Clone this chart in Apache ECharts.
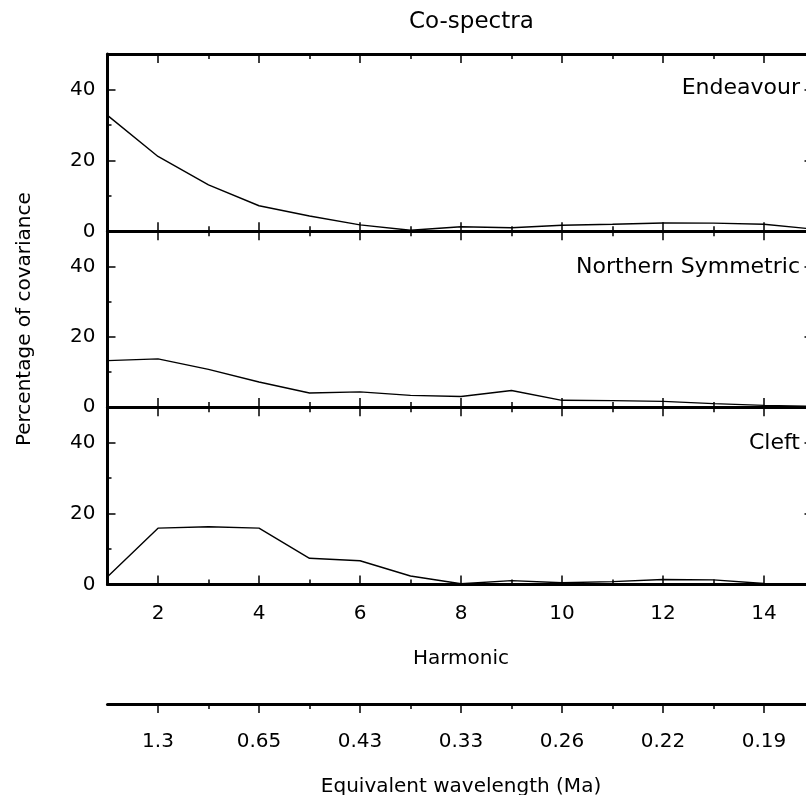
<!DOCTYPE html>
<html>
<head>
<meta charset="utf-8">
<script src="https://cdn.jsdelivr.net/npm/echarts@6/dist/echarts.min.js"></script>
<style>
html,body{margin:0;padding:0;background:#fff;}
#chart{width:806px;height:795px;}
</style>
</head>
<body>
<div id="chart"></div>
<script>
// ---- data ----
const harmonics = [1,2,3,4,5,6,7,8,9,10,11,12,13,14,15];
const endeavour = [32.7,21.1,13.1,7.2,4.3,1.8,0.3,1.3,1.0,1.7,2.0,2.35,2.3,2.0,0.6];
const northernSymmetric = [13.2,13.7,10.7,7.1,4.0,4.3,3.3,3.0,4.7,1.9,1.8,1.6,0.95,0.45,0.2];
const cleft = [2.2,15.9,16.3,15.9,7.4,6.7,2.4,0.2,1.1,0.5,0.8,1.4,1.3,0.3,0.2];
const panelNames = ['Endeavour','Northern Symmetric','Cleft'];
const majorHarmonics = [2,4,6,8,10,12,14];
const minorHarmonics = [3,5,7,9,11,13];
const yMajorTicks = [0,20,40];
const yMinorTicks = [10,30];
const wavelengthLabels = ['1.3','0.65','0.43','0.33','0.26','0.22','0.19'];

const FONT = 'DejaVu Sans';
const panelSeries = [endeavour, northernSymmetric, cleft];

const panelLayout = [
  {top: 54, height: 177.3},
  {top: 231.3, height: 175.7},
  {top: 407.3, height: 177.2}
];
const gridLeft = 107.5;
const gridWidth = 14 * 50.5;

const grids = panelLayout.map(p => ({left: gridLeft, top: p.top, width: gridWidth, height: p.height,
  containLabel: false, outerBoundsMode: 'none'}));
grids.push({left: gridLeft, top: 703, width: gridWidth, height: 1, containLabel: false, outerBoundsMode: 'none'});

const xAxes = [];
const yAxes = [];
const series = [];
const black = '#000';

function xAxis(gridIndex, position, major, opts) {
  return Object.assign({
    type: 'value', gridIndex, position, min: 1, max: 15,
    splitLine: {show: false},
    axisLine: {show: major, onZero: false, lineStyle: {color: black, width: 3}},
    axisTick: {show: true, inside: true, length: major ? 9 : 5,
      customValues: major ? majorHarmonics : minorHarmonics,
      lineStyle: {color: black, width: 1.5}},
    axisLabel: {show: false}
  }, opts || {});
}
function yAxis(gridIndex, position, major, opts) {
  return Object.assign({
    type: 'value', gridIndex, position, min: 0, max: 50,
    splitLine: {show: false},
    axisLine: {show: major, onZero: false, lineStyle: {color: black, width: 3}},
    axisTick: {show: true, inside: true, length: major ? 8 : 4,
      customValues: major ? yMajorTicks : yMinorTicks,
      lineStyle: {color: black, width: 1.5}},
    axisLabel: {show: false}
  }, opts || {});
}

panelLayout.forEach((p, g) => {
  const isLast = g === panelLayout.length - 1;
  const bottomMajorIdx = xAxes.length;
  xAxes.push(xAxis(g, 'bottom', true, isLast ? {
    axisLabel: {show: true, customValues: majorHarmonics, margin: 19,
      color: black, fontSize: 20, fontFamily: FONT},
    name: 'Harmonic', nameLocation: 'middle', nameGap: 64,
    nameTextStyle: {color: black, fontSize: 20, fontFamily: FONT}
  } : {}));
  xAxes.push(xAxis(g, 'bottom', false));
  xAxes.push(xAxis(g, 'top', true));
  xAxes.push(xAxis(g, 'top', false));

  const leftMajorIdx = yAxes.length;
  yAxes.push(yAxis(g, 'left', true, Object.assign({
    axisLabel: {show: true, customValues: yMajorTicks, margin: 12,
      color: black, fontSize: 20, fontFamily: FONT}
  }, g === 1 ? {
    name: 'Percentage of covariance', nameLocation: 'middle', nameGap: 73, nameRotate: 90,
    nameTextStyle: {color: black, fontSize: 20, fontFamily: FONT}
  } : {})));
  yAxes.push(yAxis(g, 'left', false));
  yAxes.push(Object.assign(yAxis(g, 'right', true), {
    axisTick: {show: true, inside: true, length: 10, customValues: [20, 40],
      lineStyle: {color: black, width: 1.5}}
  }));

  series.push({
    type: 'line', name: panelNames[g],
    xAxisIndex: bottomMajorIdx, yAxisIndex: leftMajorIdx,
    data: harmonics.map((h, i) => [h, panelSeries[g][i]]),
    showSymbol: false, symbol: 'none',
    lineStyle: {color: black, width: 1.4},
    clip: false, silent: true
  });
});

// wavelength axis (grid 3)
const wlMajorIdx = xAxes.length;
xAxes.push({
  type: 'value', gridIndex: 3, position: 'bottom', min: 1, max: 15,
  splitLine: {show: false},
  axisLine: {show: true, onZero: false, lineStyle: {color: black, width: 3}},
  axisTick: {show: true, inside: false, length: 9, customValues: majorHarmonics,
    lineStyle: {color: black, width: 1.5}},
  axisLabel: {show: true, customValues: majorHarmonics, margin: 28,
    color: black, fontSize: 20, fontFamily: FONT,
    formatter: v => wavelengthLabels[majorHarmonics.indexOf(Math.round(v))] || ''},
  name: 'Equivalent wavelength (Ma)', nameLocation: 'middle', nameGap: 73,
  nameTextStyle: {color: black, fontSize: 20, fontFamily: FONT}
});
xAxes.push({
  type: 'value', gridIndex: 3, position: 'bottom', min: 1, max: 15,
  splitLine: {show: false},
  axisLine: {show: false},
  axisTick: {show: true, inside: false, length: 5, customValues: minorHarmonics,
    lineStyle: {color: black, width: 1.5}},
  axisLabel: {show: false}
});
const wlYIdx = yAxes.length;
yAxes.push({type: 'value', gridIndex: 3, min: 0, max: 1, show: false});
series.push({type: 'line', xAxisIndex: wlMajorIdx, yAxisIndex: wlYIdx, data: [], silent: true});

const chart = echarts.init(document.getElementById('chart'), null, {renderer: 'canvas'});
chart.setOption({
  animation: false,
  backgroundColor: '#fff',
  title: {
    text: 'Co-spectra', left: 409, top: 11, padding: 0,
    textStyle: {color: black, fontSize: 23, fontWeight: 'normal', fontFamily: FONT}
  },
  grid: grids,
  xAxis: xAxes,
  yAxis: yAxes,
  series: series,
  graphic: panelNames.map((name, i) => ({
    type: 'text', silent: true,
    style: {
      text: name, x: 800, y: [88, 267, 443][i],
      align: 'right', verticalAlign: 'middle',
      fontSize: 22, fontFamily: FONT, fill: black
    }
  }))
});
</script>
</body>
</html>
